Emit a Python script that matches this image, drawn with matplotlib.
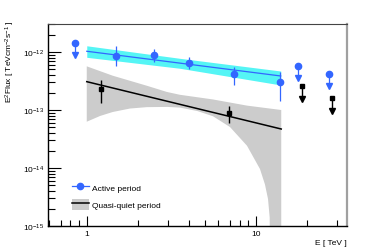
import numpy as np
import matplotlib
matplotlib.use("Agg")
import matplotlib.pyplot as plt
from matplotlib.lines import Line2D
from matplotlib.patches import Patch
from matplotlib.ticker import LogLocator, NullFormatter, FixedLocator

plt.rcParams['font.family'] = ['Liberation Sans', 'DejaVu Sans']
plt.rcParams['mathtext.fontset'] = 'custom'
plt.rcParams['mathtext.rm'] = 'Liberation Sans'
plt.rcParams['mathtext.it'] = 'Liberation Sans:italic'
plt.rcParams['mathtext.bf'] = 'Liberation Sans:bold'

# active period: flux points (E in TeV, E^2 flux in TeV cm^-2 s^-1)
active_e = [1.49, 2.49, 4.01, 7.38, 13.9]
active_f = [8.6e-13, 9.0e-13, 6.54e-13, 4.12e-13, 3.0e-13]
active_hi = [1.25e-12, 1.13e-12, 8.3e-13, 5.45e-13, 4.57e-13]
active_lo = [5.67e-13, 6.8e-13, 5.09e-13, 2.70e-13, 1.45e-13]
active_ul_e = [0.85, 17.7, 27.0]
active_ul_f = [1.43e-12, 5.74e-13, 4.18e-13]
# active period fit and band
active_fit_e = [1.0, 14.0]
active_fit_f = [1.03e-12, 3.86e-13]
active_band_e = [1.0, 3.55, 14.0]
active_band_hi = [1.28e-12, 7.78e-13, 4.7e-13]
active_band_lo = [8.1e-13, 5.24e-13, 2.7e-13]

# quasi-quiet period: flux points
quiet_e = [1.215, 6.95]
quiet_f = [2.30e-13, 8.89e-14]
quiet_hi = [3.33e-13, 1.19e-13]
quiet_lo = [1.30e-13, 5.97e-14]
quiet_ul_e = [18.7, 28.2]
quiet_ul_f = [2.56e-13, 1.59e-13]
# quasi-quiet fit and butterfly
quiet_fit_e = [1.0, 14.1]
quiet_fit_f = [3.08e-13, 4.7e-14]
quiet_up_e = [1.0, 1.425, 2.265, 2.97, 3.55, 5.57, 8.85, 14.1]
quiet_up_f = [5.66e-13, 3.90e-13, 2.62e-13, 2.05e-13, 1.83e-13, 1.52e-13, 1.19e-13, 1.0e-13]
quiet_low_e = [1.0, 1.2, 1.425, 1.8, 2.265, 3.0, 3.55, 4.5, 5.57, 7.02, 8.85, 10.56,
               11.3, 11.78, 12.05, 12.2, 14.1]
quiet_low_f = [6.28e-14, 7.9e-14, 9.24e-14, 1.06e-13, 1.12e-13, 1.13e-13, 1.10e-13,
               9.6e-14, 7.8e-14, 5.09e-14, 2.42e-14, 9.6e-15,
               5.2e-15, 2.92e-15, 1.4e-15, 1e-17, 1e-17]

blue = '#3366ff'
fig = plt.figure(figsize=(3.74, 2.53), dpi=100)
ax = fig.add_axes([0.1283, 0.1028, 0.7995, 0.7984])
ax.set_xscale('log')
ax.set_yscale('log')

# quiet butterfly
poly_e = quiet_up_e + quiet_low_e[::-1]
poly_f = quiet_up_f + quiet_low_f[::-1]
ax.fill(poly_e, poly_f, color='#cccccc', lw=0, zorder=1)
ax.plot(quiet_fit_e, quiet_fit_f, color='black', lw=1.1, zorder=3)

# active band
ax.fill_between(active_band_e, active_band_lo, active_band_hi, color='#55f5f5', lw=0, zorder=2)
ax.plot(active_fit_e, active_fit_f, color=blue, lw=0.9, zorder=3)

# points
af = np.array(active_f)
ax.errorbar(active_e, af, yerr=[af - np.array(active_lo), np.array(active_hi) - af],
            fmt='o', color=blue, ms=4.5, elinewidth=0.9, capsize=0, zorder=4)
qf = np.array(quiet_f)
ax.errorbar(quiet_e, qf, yerr=[qf - np.array(quiet_lo), np.array(quiet_hi) - qf],
            fmt='s', color='black', ms=3, elinewidth=1.0, capsize=0, zorder=4)

# upper limits: marker, drop line, arrowhead
drop = 10 ** (-12.5 / 58)
for e, f in zip(active_ul_e, active_ul_f):
    ax.plot([e, e], [f, f * drop], color=blue, lw=0.9, zorder=4)
    ax.plot(e, f, 'o', color=blue, ms=4.5, zorder=5)
    ax.plot(e, f * drop, 'v', color=blue, ms=4.5, zorder=5)
for e, f in zip(quiet_ul_e, quiet_ul_f):
    ax.plot([e, e], [f, f * drop], color='black', lw=1.0, zorder=4)
    ax.plot(e, f, 's', color='black', ms=3, zorder=5)
    ax.plot(e, f * drop, 'v', color='black', ms=4.5, zorder=5)

ax.set_xlim(0.59, 34.5)
ax.set_ylim(1e-15, 3.04e-12)

ax.yaxis.set_major_locator(FixedLocator([1e-15, 1e-14, 1e-13, 1e-12]))
ax.yaxis.set_minor_locator(LogLocator(base=10, subs=np.arange(2, 10), numticks=10))
ax.yaxis.set_minor_formatter(NullFormatter())
ax.xaxis.set_major_locator(FixedLocator([1, 10]))
ax.xaxis.set_minor_locator(LogLocator(base=10, subs=np.arange(2, 10), numticks=10))
ax.xaxis.set_minor_formatter(NullFormatter())
ax.set_xticklabels(['1', '10'])

ax.tick_params(which='both', direction='in', top=False, right=False, labelsize=6, width=0.8)
ax.tick_params(axis='y', which='major', length=9, pad=3)
ax.tick_params(axis='y', which='minor', length=5)
ax.tick_params(axis='x', which='major', length=7, pad=3)
ax.tick_params(axis='x', which='minor', length=4)

ax.spines['left'].set_linewidth(1.0)
ax.spines['bottom'].set_linewidth(1.0)
ax.spines['top'].set_color('#444444')
ax.spines['top'].set_linewidth(0.8)
ax.spines['right'].set_color('#a0a0a0')
ax.spines['right'].set_linewidth(1.6)

ax.set_ylabel(r'E$^{2}$Flux [ TeVcm$^{-2}$s$^{-1}$ ]', fontsize=6, y=0.82, labelpad=4)
ax.set_xlabel('E [ TeV ]', fontsize=6, loc='right', labelpad=1)

handles = [Line2D([], [], color=blue, marker='o', ms=4.5, lw=0.9),
           (Patch(color='#cccccc', lw=0), Line2D([], [], color='black', lw=1.1))]
ax.legend(handles, ['Active period', 'Quasi-quiet period'], loc='lower left',
          bbox_to_anchor=(0.055, 0.04), frameon=False, fontsize=6,
          handlelength=2.0, handleheight=1.7, handletextpad=0.4, labelspacing=0.75)

fig.savefig('out.png', dpi=100)
